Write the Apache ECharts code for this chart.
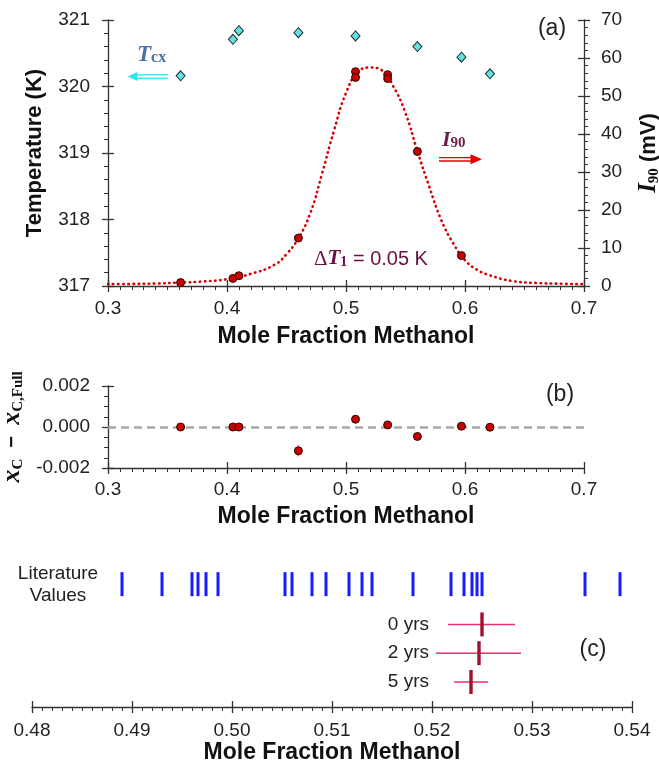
<!DOCTYPE html>
<html>
<head>
<meta charset="utf-8">
<script src="https://cdn.jsdelivr.net/npm/echarts@6/dist/echarts.min.js"></script>
<style>
html, body { margin: 0; padding: 0; background: #fff; }
#chart { width: 659px; height: 763px; }
</style>
</head>
<body>
<div id="chart"></div>
<script>
// (a) measured points
const xTcx = [0.361, 0.405, 0.410, 0.460, 0.508, 0.560, 0.597, 0.621]
const tcx = [320.16, 320.71, 320.84, 320.81, 320.76, 320.60, 320.44, 320.19]
const xI90 = [0.361, 0.405, 0.410, 0.460, 0.508, 0.508, 0.535, 0.535, 0.560, 0.597]
const i90 = [0.9, 2.0, 2.7, 12.6, 56.4, 54.9, 55.6, 54.6, 35.4, 8.0]
// (a) fitted curve
const xFit = [0.30, 0.32, 0.34, 0.36, 0.38, 0.40, 0.42, 0.44, 0.45, 0.46, 0.47, 0.48, 0.49, 0.50, 0.51,
  0.52, 0.53, 0.54, 0.55, 0.56, 0.57, 0.58, 0.59, 0.60, 0.61, 0.62, 0.64, 0.66, 0.68, 0.70]
const iFit = [0.5, 0.55, 0.65, 0.9, 1.2, 1.8, 3.2, 5.6, 8.4, 12.6, 19.2, 29.7, 41.0, 50.8, 56.2,
  57.5, 56.8, 52.4, 45.5, 35.5, 26.1, 17.4, 11.3, 6.8, 4.3, 2.9, 1.3, 0.8, 0.6, 0.5]
// (b) residuals
const xRes = [0.361, 0.405, 0.410, 0.460, 0.508, 0.535, 0.560, 0.597, 0.621]
const res = [0.0000, 0.0000, 0.0000, -0.00116, 0.00038, 0.0001, -0.00046, 0.00004, -0.00001]
const resErr = [0, 0, 0, 0.00027, 0, 0, 0, 0, 0]
// (c) literature values and fits
const litValues = [0.4890, 0.4930, 0.4960, 0.4966, 0.4974, 0.4986, 0.5053, 0.5060, 0.5080, 0.5094,
  0.5117, 0.5130, 0.5140, 0.5181, 0.5219, 0.5232, 0.5240, 0.5245, 0.5250, 0.5353, 0.5388]
const fitLabels = ['0 yrs', '2 yrs', '5 yrs']
const fitCenter = [0.5250, 0.5247, 0.5239]
const fitLow = [0.5216, 0.5204, 0.5222]
const fitHigh = [0.5283, 0.5289, 0.5256]

const SANS = 'Liberation Sans, Arial, sans-serif'
const SERIF = 'Liberation Serif, Times New Roman, serif'
const AX = '#333'
const LIT_LEVEL = 3.4

// axis with labels, outward ticks and minor ticks
function mainAxis(o, fmt, labelMargin) {
  return Object.assign({
    type: 'value',
    nameLocation: 'middle',
    axisLine: { show: true, onZero: false, lineStyle: { color: AX, width: 1.3 } },
    axisTick: { show: true, length: 6, lineStyle: { color: AX, width: 1.3 } },
    minorTick: { show: true, length: 4, lineStyle: { color: AX, width: 1 } },
    splitLine: { show: false },
    axisLabel: { color: '#222', fontFamily: SANS, fontSize: 19, margin: labelMargin, formatter: fmt },
    nameTextStyle: { color: '#111', fontFamily: SANS, fontSize: 23, fontWeight: 'bold' }
  }, o)
}
// twin axis: inward half of the major ticks
function innerAxis(o) {
  return Object.assign({
    type: 'value',
    axisLine: { show: false, onZero: false },
    axisTick: { show: true, inside: true, length: 6, lineStyle: { color: AX, width: 1.3 } },
    axisLabel: { show: false },
    splitLine: { show: false }
  }, o)
}

const fmt1 = v => v.toFixed(1)
const fmt2 = v => v.toFixed(2)
const fmt3 = v => (Math.abs(v) < 1e-9 ? '0.000' : v.toFixed(3))
const fmt0 = v => String(Math.round(v))

const xA = { min: 0.3, max: 0.7, interval: 0.1 }
const xC = { min: 0.48, max: 0.54, interval: 0.01 }
const minor = n => ({ show: true, splitNumber: n, length: 4, lineStyle: { color: AX, width: 1 } })

const chart = echarts.init(document.getElementById('chart'))

const option = {
  animation: false,
  backgroundColor: '#fff',
  grid: [
    { left: 108, top: 20, width: 476, height: 266, outerBoundsMode: 'none', containLabel: false },
    { left: 108, top: 386, width: 476, height: 82, outerBoundsMode: 'none', containLabel: false },
    { left: 32, top: 560, width: 600, height: 147, outerBoundsMode: 'none', containLabel: false }
  ],
  xAxis: [
    mainAxis(Object.assign({ gridIndex: 0, position: 'bottom', name: 'Mole Fraction Methanol', nameGap: 39,
      minorTick: minor(10) }, xA), fmt1, 13),
    innerAxis(Object.assign({ gridIndex: 0, position: 'bottom' }, xA)),
    mainAxis(Object.assign({ gridIndex: 1, position: 'bottom', name: 'Mole Fraction Methanol', nameGap: 37,
      minorTick: minor(10) }, xA), fmt1, 12),
    innerAxis(Object.assign({ gridIndex: 1, position: 'bottom' }, xA)),
    mainAxis(Object.assign({ gridIndex: 2, position: 'bottom', name: 'Mole Fraction Methanol', nameGap: 34,
      minorTick: minor(10) }, xC), fmt2, 14),
    innerAxis(Object.assign({ gridIndex: 2, position: 'bottom' }, xC))
  ],
  yAxis: [
    mainAxis({ gridIndex: 0, position: 'left', min: 317, max: 321, interval: 1, name: 'Temperature (K)', nameGap: 62, nameRotate: 90,
      nameTextStyle: { color: '#111', fontFamily: SANS, fontSize: 22, fontWeight: 'bold' },
      minorTick: minor(5) }, fmt0, 18),
    innerAxis({ gridIndex: 0, position: 'left', min: 317, max: 321, interval: 1 }),
    mainAxis({ gridIndex: 0, position: 'right', min: 0, max: 70, interval: 10,
      name: '{i|I}{s|90}{n| (mV)}', nameGap: 52, nameRotate: 90,
      nameTextStyle: { rich: {
        i: { fontFamily: SERIF, fontSize: 25, fontStyle: 'italic', fontWeight: 'bold', color: '#111', lineHeight: 26 },
        s: { fontFamily: SERIF, fontSize: 15, fontWeight: 'bold', color: '#111', lineHeight: 10, verticalAlign: 'bottom' },
        n: { fontFamily: SANS, fontSize: 22, fontWeight: 'bold', color: '#111', lineHeight: 26 }
      } },
      minorTick: minor(5) }, fmt0, 17),
    innerAxis({ gridIndex: 0, position: 'right', min: 0, max: 70, interval: 10 }),
    mainAxis({ gridIndex: 1, position: 'left', min: -0.002, max: 0.002, interval: 0.002,
      name: '{x|x}{s|C}{m|  −  }{x|x}{s|C,Full}', nameGap: 70, nameRotate: 90,
      nameTextStyle: { rich: {
        x: { fontFamily: SERIF, fontSize: 26, fontStyle: 'italic', fontWeight: 'bold', color: '#111', lineHeight: 26 },
        s: { fontFamily: SERIF, fontSize: 15, fontWeight: 'bold', color: '#111', lineHeight: 10, verticalAlign: 'bottom' },
        m: { fontFamily: SANS, fontSize: 20, fontWeight: 'bold', color: '#111', lineHeight: 26 }
      } },
      minorTick: minor(4) }, fmt3, 18),
    innerAxis({ gridIndex: 1, position: 'left', min: -0.002, max: 0.002, interval: 0.002 }),
    { type: 'value', gridIndex: 2, min: -0.87, max: 4.24, show: false }
  ],
  series: [
    {
      type: 'line', xAxisIndex: 0, yAxisIndex: 2, smooth: true, showSymbol: false, z: 1,
      data: xFit.map((x, i) => [x, iFit[i]]),
      lineStyle: { color: '#d60000', width: 2.6, type: [0.5, 4.6], cap: 'round' }
    },
    {
      type: 'scatter', xAxisIndex: 0, yAxisIndex: 2, symbol: 'circle', symbolSize: 8, z: 3,
      data: xI90.map((x, i) => [x, i90[i]]),
      itemStyle: { color: '#c80000', borderColor: '#2a0a0a', borderWidth: 1, opacity: 1 }
    },
    {
      type: 'scatter', xAxisIndex: 0, yAxisIndex: 0, symbol: 'diamond', symbolSize: [9, 10], z: 3,
      data: xTcx.map((x, i) => [x, tcx[i]]),
      itemStyle: { color: '#62e2e2', borderColor: '#1c2e2e', borderWidth: 1, opacity: 1 }
    },
    {
      type: 'custom', xAxisIndex: 2, yAxisIndex: 4, z: 2,
      data: xRes.map((x, i) => [x, res[i], resErr[i]]),
      encode: { x: 0, y: 1 },
      renderItem: (params, api) => {
        const e = api.value(2)
        if (!e) return null
        const p1 = api.coord([api.value(0), api.value(1) - e])
        const p2 = api.coord([api.value(0), api.value(1) + e])
        return { type: 'line', shape: { x1: p1[0], y1: p1[1], x2: p2[0], y2: p2[1] },
          style: { stroke: '#f05a8a', lineWidth: 1.5 } }
      }
    },
    {
      type: 'scatter', xAxisIndex: 2, yAxisIndex: 4, symbol: 'circle', symbolSize: 8, z: 3,
      data: xRes.map((x, i) => [x, res[i]]),
      itemStyle: { color: '#c80000', borderColor: '#2a0a0a', borderWidth: 1, opacity: 1 },
      markLine: {
        silent: true, symbol: 'none', label: { show: false }, z: 1,
        data: [{ yAxis: 0 }],
        lineStyle: { color: '#a8a8a8', width: 2.6, type: [8, 5] }
      }
    },
    {
      type: 'scatter', xAxisIndex: 4, yAxisIndex: 6, symbol: 'rect', symbolSize: [3, 24],
      data: litValues.map(v => [v, LIT_LEVEL]),
      itemStyle: { color: '#1a1aff', opacity: 1 }
    },
    {
      type: 'custom', xAxisIndex: 4, yAxisIndex: 6,
      data: fitCenter.map((c, i) => [c, fitLow[i], fitHigh[i], 2 - i]),
      encode: { x: [0, 1, 2], y: 3 },
      renderItem: (params, api) => {
        const lvl = api.value(3)
        const lo = api.coord([api.value(1), lvl])
        const hi = api.coord([api.value(2), lvl])
        const c = api.coord([api.value(0), lvl])
        return { type: 'group', children: [
          { type: 'line', shape: { x1: lo[0], y1: lo[1], x2: hi[0], y2: hi[1] },
            style: { stroke: '#e8336b', lineWidth: 1.4 } },
          { type: 'line', shape: { x1: c[0], y1: c[1] - 12, x2: c[0], y2: c[1] + 12 },
            style: { stroke: '#a3102f', lineWidth: 3.4 } }
        ] }
      }
    }
  ],
  graphic: [
    // T_cx arrow and label
    { type: 'line', shape: { x1: 136, y1: 74.8, x2: 168, y2: 74.8 }, style: { stroke: '#2ee4f0', lineWidth: 1.3 } },
    { type: 'line', shape: { x1: 136, y1: 78.2, x2: 168, y2: 78.2 }, style: { stroke: '#2ee4f0', lineWidth: 1.3 } },
    { type: 'polygon', shape: { points: [[127.5, 76.5], [137.5, 72], [137.5, 81]] }, style: { fill: '#2ee4f0' } },
    { type: 'text', x: 137, y: 44, style: {
      text: '{t|T}{s|cx}',
      rich: {
        t: { fontFamily: SERIF, fontSize: 23, fontStyle: 'italic', fontWeight: 'bold', fill: '#4d6fa8', lineHeight: 22 },
        s: { fontFamily: SERIF, fontSize: 16, fontWeight: 'bold', fill: '#4d6fa8', lineHeight: 8, verticalAlign: 'bottom' }
      } } },
    // I_90 arrow and label
    { type: 'line', shape: { x1: 439, y1: 157.7, x2: 472, y2: 157.7 }, style: { stroke: '#e00000', lineWidth: 1.3 } },
    { type: 'line', shape: { x1: 439, y1: 161, x2: 472, y2: 161 }, style: { stroke: '#e00000', lineWidth: 1.3 } },
    { type: 'polygon', shape: { points: [[482, 159.3], [470.5, 154.3], [470.5, 164.3]] }, style: { fill: '#e00000' } },
    { type: 'text', x: 442, y: 130, style: {
      text: '{t|I}{s|90}',
      rich: {
        t: { fontFamily: SERIF, fontSize: 22, fontStyle: 'italic', fontWeight: 'bold', fill: '#6e1e4a', lineHeight: 21 },
        s: { fontFamily: SERIF, fontSize: 15, fontWeight: 'bold', fill: '#6e1e4a', lineHeight: 8, verticalAlign: 'bottom' }
      } } },
    // Delta T1 annotation
    { type: 'text', x: 314, y: 249, style: {
      text: '{d|Δ}{t|T}{s|1}{n| = 0.05 K}',
      rich: {
        d: { fontFamily: SERIF, fontSize: 21, fill: '#6b1042', lineHeight: 20 },
        t: { fontFamily: SERIF, fontSize: 21, fontStyle: 'italic', fontWeight: 'bold', fill: '#6b1042', lineHeight: 20 },
        s: { fontFamily: SERIF, fontSize: 14, fontWeight: 'bold', fill: '#6b1042', lineHeight: 8, verticalAlign: 'bottom' },
        n: { fontFamily: SANS, fontSize: 20, fill: '#6b1042', lineHeight: 20 }
      } } },
    // panel tags
    { type: 'text', x: 552, y: 29, style: { text: '(a)', font: '23px ' + SANS, fill: '#222', align: 'center', verticalAlign: 'middle' } },
    { type: 'text', x: 560, y: 395, style: { text: '(b)', font: '23px ' + SANS, fill: '#222', align: 'center', verticalAlign: 'middle' } },
    { type: 'text', x: 593, y: 650, style: { text: '(c)', font: '23px ' + SANS, fill: '#222', align: 'center', verticalAlign: 'middle' } },
    // panel (c) text
    { type: 'text', x: 58, y: 585, style: { text: 'Literature\nValues', font: '19px ' + SANS, lineHeight: 22,
      fill: '#222', align: 'center', verticalAlign: 'middle' } },
    { type: 'text', x: 429, y: 624.3, style: { text: fitLabels[0], font: '19px ' + SANS, fill: '#222', align: 'right', verticalAlign: 'middle' } },
    { type: 'text', x: 429, y: 652.7, style: { text: fitLabels[1], font: '19px ' + SANS, fill: '#222', align: 'right', verticalAlign: 'middle' } },
    { type: 'text', x: 429, y: 681.7, style: { text: fitLabels[2], font: '19px ' + SANS, fill: '#222', align: 'right', verticalAlign: 'middle' } }
  ]
}

chart.setOption(option)
</script>
</body>
</html>
